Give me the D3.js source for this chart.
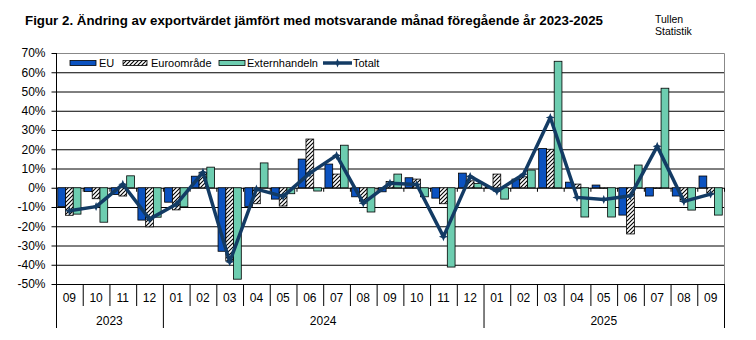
<!DOCTYPE html>
<html>
<head>
<meta charset="utf-8">
<script src="https://cdn.jsdelivr.net/npm/d3@7"></script>
<style>
  body { margin: 0; background: #fff; }
  text { font-family: "Liberation Sans", Arial, sans-serif; fill: #000; }
</style>
</head>
<body>
<script>
// monthly change in export value vs same month previous year, %
const months = ['09','10','11','12','01','02','03','04','05','06','07','08','09','10','11','12','01','02','03','04','05','06','07','08','09']
const years = ['2023','2024','2025']
const yearMonths = [4, 12, 9]

const eu    = [-9.8, -2.0, -3.5, -16.8, -7.5, 6.0, -33.0, -9.7, -5.9, 14.9, 12.3, -4.7, -2.1, 5.2, -5.4, 7.6, 0.4, 4.5, 20.4, 2.9, 1.4, -14.2, -4.3, -4.3, 6.1]
const euro  = [-14.3, -5.7, -4.3, -20.3, -11.5, 8.0, -38.0, -8.3, -9.5, 25.3, 7.1, -7.0, 3.3, 4.5, -8.3, 3.6, 7.1, 5.7, 20.0, 1.9, -0.2, -24.0, -0.3, -7.1, -2.8]
const ext   = [-13.7, -17.9, 6.2, -15.3, -9.9, 10.7, -47.5, 12.9, -3.1, -1.7, 22.1, -12.6, 7.1, -4.7, -41.2, 2.2, -5.9, 9.2, 65.7, -15.2, -15.2, 11.8, 51.7, -11.6, -14.2]
const total = [-12.0, -9.8, 1.8, -16.3, -8.6, 8.0, -38.5, -0.7, -4.5, 7.6, 16.8, -8.0, 2.4, 1.7, -25.4, 5.9, -1.8, 7.0, 36.5, -5.0, -6.1, -4.2, 21.5, -7.1, -3.3]

const yTicks = [-50, -40, -30, -20, -10, 0, 10, 20, 30, 40, 50, 60, 70]

const width = 756
const height = 340
const plot = {left: 56, right: 724, top: 53, bottom: 284}

const blue = '#0b52c0'
const mint = '#6dcdb0'
const navy = '#133b64'

const x = d3.scaleBand().domain(d3.range(months.length)).range([plot.left, plot.right])
const y = d3.scaleLinear().domain([-50, 70]).range([plot.bottom, plot.top])
const bw = x.bandwidth() * 0.29
const cx = (i) => x(i) + x.bandwidth() / 2

const svg = d3.select('body').append('svg').attr('width', width).attr('height', height)

// diagonal hatch for the euro area series
const pat = svg.append('defs').append('pattern')
	.attr('id', 'hatch').attr('patternUnits', 'userSpaceOnUse')
	.attr('width', 4).attr('height', 4)
pat.append('rect').attr('width', 4).attr('height', 4).attr('fill', '#fff')
pat.append('path').attr('d', 'M-1,1 l2,-2 M0,4 l4,-4 M3,5 l2,-2')
	.attr('stroke', '#000').attr('stroke-width', 1.1)

// title
svg.append('text').attr('x', 25).attr('y', 24.5)
	.attr('font-size', 13.5).attr('font-weight', 'bold')
	.style('font-family', '"Liberation Sans Narrow", "Arial Narrow", "Liberation Sans", sans-serif')
	.attr('textLength', 578).attr('lengthAdjust', 'spacingAndGlyphs')
	.text('Figur 2. Ändring av exportvärdet jämfört med motsvarande månad föregående år 2023-2025')
svg.append('text').attr('x', 655).attr('y', 22.5).attr('font-size', 10.5).text('Tullen')
svg.append('text').attr('x', 655).attr('y', 34.5).attr('font-size', 10.5).text('Statistik')

// gridlines
svg.append('g').selectAll('line').data(yTicks).enter().append('line')
	.attr('x1', plot.left).attr('x2', plot.right)
	.attr('y1', d => y(d) + 0.5).attr('y2', d => y(d) + 0.5)
	.attr('stroke', '#000').attr('stroke-width', 1)

// frame top / right
svg.append('path')
	.attr('d', 'M' + plot.left + ',' + (plot.top + 0.5) + 'H' + (plot.right + 0.5) + 'V' + plot.bottom)
	.attr('fill', 'none').attr('stroke', '#888').attr('stroke-width', 1)

// bars
const series = [
	{name: 'EU', values: eu, fill: blue},
	{name: 'Euroområde', values: euro, fill: 'url(#hatch)'},
	{name: 'Externhandeln', values: ext, fill: mint}
]
series.forEach((s, k) => {
	svg.append('g').selectAll('rect').data(s.values).enter().append('rect')
		.attr('x', (d, i) => cx(i) + (k - 1.5) * bw)
		.attr('width', bw)
		.attr('y', d => y(Math.max(0, d)))
		.attr('height', d => Math.abs(y(d) - y(0)))
		.attr('fill', s.fill)
		.attr('stroke', '#000').attr('stroke-width', 0.8)
})

// ticks on the zero line
svg.append('g').selectAll('line').data(d3.range(months.length + 1)).enter().append('line')
	.attr('x1', i => plot.left + i * x.step() + 0.5).attr('x2', i => plot.left + i * x.step() + 0.5)
	.attr('y1', y(0)).attr('y2', y(0) + 4)
	.attr('stroke', '#000')

// total line
const line = d3.line().x((d, i) => cx(i)).y(d => y(d))
svg.append('path').datum(total).attr('d', line)
	.attr('fill', 'none').attr('stroke', navy).attr('stroke-width', 3.5).attr('stroke-linejoin', 'round')
const star = 'M0,-4.5L1.3,-1.3L4.5,0L1.3,1.3L0,4.5L-1.3,1.3L-4.5,0L-1.3,-1.3Z'
svg.append('g').selectAll('path').data(total).enter().append('path')
	.attr('d', star).attr('fill', navy)
	.attr('transform', (d, i) => 'translate(' + cx(i) + ',' + y(d) + ')')

// y axis
const yAxis = svg.append('g').attr('transform', 'translate(' + (plot.left + 0.5) + ',0)')
	.call(d3.axisLeft(y).tickValues(yTicks).tickFormat(d => d + '%').tickSize(5).tickSizeOuter(0))
yAxis.select('.domain').remove()
yAxis.selectAll('text').attr('font-size', 12).attr('x', -11).style('font-family', '"Liberation Sans", Arial, sans-serif')
svg.append('line').attr('x1', plot.left + 0.5).attr('x2', plot.left + 0.5)
	.attr('y1', plot.top).attr('y2', 328).attr('stroke', '#000')

// category axis: months and years
const yearStart = [0, 4, 16, 25]
svg.append('g').selectAll('line').data(d3.range(1, months.length + 1)).enter().append('line')
	.attr('x1', i => plot.left + i * x.step() + 0.5).attr('x2', i => plot.left + i * x.step() + 0.5)
	.attr('y1', plot.bottom).attr('y2', i => yearStart.includes(i) ? 328 : 306)
	.attr('stroke', '#000')
svg.append('g').selectAll('text').data(months).enter().append('text')
	.attr('x', (d, i) => cx(i)).attr('y', 302)
	.attr('text-anchor', 'middle').attr('font-size', 12).text(d => d)
svg.append('g').selectAll('text').data(years).enter().append('text')
	.attr('x', (d, k) => plot.left + (yearStart[k] + yearMonths[k] / 2) * x.step())
	.attr('y', 324.5)
	.attr('text-anchor', 'middle').attr('font-size', 12).text(d => d)

// legend
const legend = svg.append('g').attr('transform', 'translate(0,63)')
const items = [
	{name: 'EU', x: 70, w: 26, tx: 99, fill: blue},
	{name: 'Euroområde', x: 123, w: 24, tx: 151, fill: 'url(#hatch)'},
	{name: 'Externhandeln', x: 219, w: 26, tx: 247, fill: mint},
	{name: 'Totalt', x: 323, w: 29, tx: 353, line: true}
]
items.forEach(it => {
	if (it.line) {
		legend.append('line').attr('x1', it.x).attr('x2', it.x + it.w).attr('y1', 0).attr('y2', 0)
			.attr('stroke', navy).attr('stroke-width', 3.5)
		legend.append('path').attr('d', star).attr('fill', navy)
			.attr('transform', 'translate(' + (it.x + it.w / 2) + ',0)')
	} else {
		legend.append('rect').attr('x', it.x).attr('y', -2.5).attr('width', it.w).attr('height', 5)
			.attr('fill', it.fill).attr('stroke', '#000').attr('stroke-width', 0.8)
	}
	legend.append('text').attr('x', it.tx).attr('y', 4)
		.attr('font-size', 11).text(it.name)
})
</script>
</body>
</html>
